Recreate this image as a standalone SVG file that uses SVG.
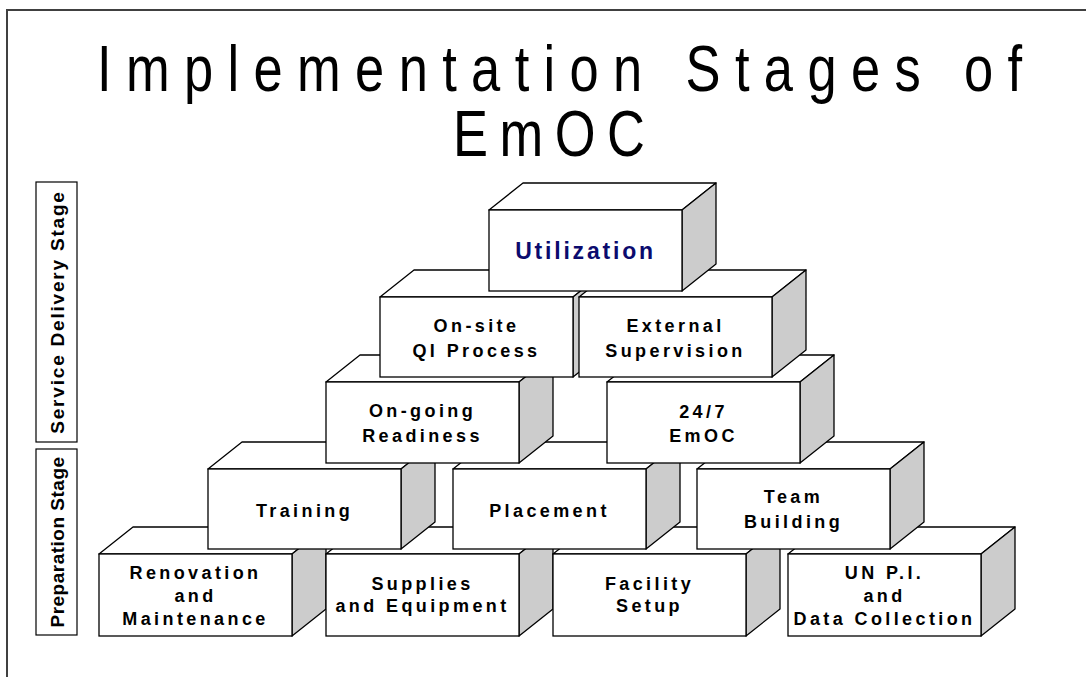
<svg xmlns="http://www.w3.org/2000/svg" width="1086" height="677" viewBox="0 0 1086 677">
<style>
.front{fill:#fff;stroke:#000;stroke-width:1.3}
.top{fill:#fff;stroke:#000;stroke-width:1.3;stroke-linejoin:round}
.side{fill:#ccc;stroke:#000;stroke-width:1.3;stroke-linejoin:round}
.lbl{font-family:"Liberation Sans",Arial,sans-serif;font-weight:bold;font-size:18px;letter-spacing:3.4px;text-anchor:middle;fill:#000}
.title{font-family:"Liberation Sans",Arial,sans-serif;font-size:64px;fill:#000}
.stage{fill:#fff;stroke:#000;stroke-width:1.2}
.stxt{font-family:"Liberation Sans",Arial,sans-serif;font-weight:bold;font-size:19px;text-anchor:middle;fill:#000}
</style>
<rect width="1086" height="677" fill="#fff"/>
<g id="frame">
<path d="M7,677 V10 H1086" fill="none" stroke="#404040" stroke-width="2"/>
</g>
<g id="title">
<text class="title" transform="translate(97,91) scale(0.82,1)" style="letter-spacing:17.5px">Implementation Stages of</text>
<text class="title" transform="translate(453,156) scale(0.82,1)" style="letter-spacing:14px">EmOC</text>
</g>
<g id="stage-service">
<rect class="stage" x="36" y="182" width="41" height="260"/>
<text class="stxt" transform="translate(63.5,312) rotate(-90)" style="letter-spacing:1.8px">Service Delivery Stage</text>
</g>
<g id="stage-preparation">
<rect class="stage" x="36" y="449" width="41" height="186"/>
<text class="stxt" transform="translate(63.5,542) rotate(-90)" style="letter-spacing:0.5px">Preparation Stage</text>
</g>
<g id="connectors"></g>
<!-- Row 5 -->
<g id="renovation">
<polygon class="top" points="99,554 133,527 326,527 292,554"/>
<polygon class="side" points="292,554 326,527 326,609 292,636"/>
<rect class="front" x="99" y="554" width="193" height="82"/>
<text class="lbl" x="195.5" y="579">Renovation</text>
<text class="lbl" x="195.5" y="602">and</text>
<text class="lbl" x="195.5" y="625">Maintenance</text>
</g>
<g id="supplies">
<polygon class="top" points="326,554 360,527 553,527 519,554"/>
<polygon class="side" points="519,554 553,527 553,609 519,636"/>
<rect class="front" x="326" y="554" width="193" height="82"/>
<text class="lbl" x="422.5" y="590">Supplies</text>
<text class="lbl" x="422.5" y="612">and Equipment</text>
</g>
<g id="facility">
<polygon class="top" points="553,554 587,527 780,527 746,554"/>
<polygon class="side" points="746,554 780,527 780,609 746,636"/>
<rect class="front" x="553" y="554" width="193" height="82"/>
<text class="lbl" x="649.5" y="590">Facility</text>
<text class="lbl" x="649.5" y="612">Setup</text>
</g>
<g id="unpi">
<polygon class="top" points="788,554 822,527 1015,527 981,554"/>
<polygon class="side" points="981,554 1015,527 1015,609 981,636"/>
<rect class="front" x="788" y="554" width="193" height="82"/>
<text class="lbl" x="884.5" y="579">UN P.I.</text>
<text class="lbl" x="884.5" y="602">and</text>
<text class="lbl" x="884.5" y="625">Data Collection</text>
</g>
<!-- Row 4 -->
<g id="training">
<polygon class="top" points="208,469 242,442 435,442 401,469"/>
<polygon class="side" points="401,469 435,442 435,522 401,549"/>
<rect class="front" x="208" y="469" width="193" height="80"/>
<text class="lbl" x="304.5" y="517">Training</text>
</g>
<g id="placement">
<polygon class="top" points="453,469 487,442 680,442 646,469"/>
<polygon class="side" points="646,469 680,442 680,522 646,549"/>
<rect class="front" x="453" y="469" width="193" height="80"/>
<text class="lbl" x="549.5" y="517">Placement</text>
</g>
<g id="teambuilding">
<polygon class="top" points="697,469 731,442 924,442 890,469"/>
<polygon class="side" points="890,469 924,442 924,522 890,549"/>
<rect class="front" x="697" y="469" width="193" height="80"/>
<text class="lbl" x="793.5" y="503">Team</text>
<text class="lbl" x="793.5" y="528">Building</text>
</g>
<!-- Row 3 -->
<g id="readiness">
<polygon class="top" points="326,382 360,355 553,355 519,382"/>
<polygon class="side" points="519,382 553,355 553,436 519,463"/>
<rect class="front" x="326" y="382" width="193" height="81"/>
<text class="lbl" x="422.5" y="417">On-going</text>
<text class="lbl" x="422.5" y="442">Readiness</text>
</g>
<g id="emoc247">
<polygon class="top" points="607,382 641,355 834,355 800,382"/>
<polygon class="side" points="800,382 834,355 834,436 800,463"/>
<rect class="front" x="607" y="382" width="193" height="81"/>
<text class="lbl" x="703.5" y="418">24/7</text>
<text class="lbl" x="703.5" y="442">EmOC</text>
</g>
<!-- Row 2 -->
<g id="qiprocess">
<polygon class="top" points="380,297 414,270 607,270 573,297"/>
<polygon class="side" points="573,297 607,270 607,350 573,377"/>
<rect class="front" x="380" y="297" width="193" height="80"/>
<text class="lbl" x="476.5" y="332">On-site</text>
<text class="lbl" x="476.5" y="357">QI Process</text>
</g>
<g id="supervision">
<polygon class="top" points="579,297 613,270 806,270 772,297"/>
<polygon class="side" points="772,297 806,270 806,350 772,377"/>
<rect class="front" x="579" y="297" width="193" height="80"/>
<text class="lbl" x="675.5" y="332">External</text>
<text class="lbl" x="675.5" y="357">Supervision</text>
</g>
<!-- Row 1 -->
<g id="utilization">
<polygon class="top" points="489,210 523,183 716,183 682,210"/>
<polygon class="side" points="682,210 716,183 716,264 682,291"/>
<rect class="front" x="489" y="210" width="193" height="81"/>
<text class="lbl" x="585.5" y="259" style="font-size:23px;letter-spacing:2.8px;fill:#0b0b6e">Utilization</text>
</g>
</svg>
